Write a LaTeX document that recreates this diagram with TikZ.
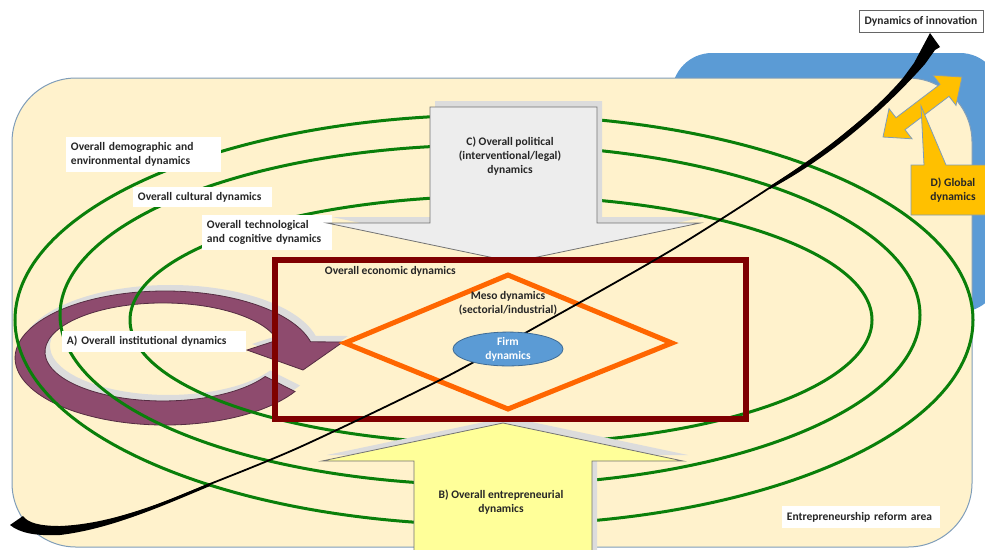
\documentclass[tikz,border=0pt]{standalone}
\usepackage{fontspec}
\setmainfont{Carlito}
\usepackage{xcolor}
\usetikzlibrary{positioning,shadows,shapes.geometric}

\definecolor{cream}{HTML}{FFF2CC}
\definecolor{skyblue}{HTML}{5B9BD5}
\definecolor{edgeblue}{HTML}{7F9DB9}
\definecolor{ringgreen}{HTML}{0A7F0A}
\definecolor{plum}{HTML}{8E4B6E}
\definecolor{shade}{HTML}{DCDCDC}
\definecolor{arrowgray}{HTML}{EDEDED}
\definecolor{paleyellow}{HTML}{FFFF99}
\definecolor{darkred}{HTML}{7F0000}
\definecolor{vivid}{HTML}{FF6600}
\definecolor{gold}{HTML}{FFC000}

\begin{document}
\begin{tikzpicture}[x=0.025cm, y=-0.025cm,
    every node/.style={font=\fontsize{8.2}{10}\selectfont\bfseries, text=black!85, align=center},
    tag/.style={fill=white, inner xsep=0.125cm, inner ysep=0pt, align=left},
    orbit/.style={draw=ringgreen, line width=0.075cm},
    block/.style={draw=black!55, line width=0.02cm},
    lift/.style={drop shadow={shadow xshift=0.125cm, shadow yshift=0.15cm, fill=shade, opacity=1}}]

    \useasboundingbox (0,0) rectangle (985,549);
    \clip (0,0) rectangle (985,549);

    \fill[skyblue, rounded corners=1cm] (672,53) rectangle (1000,312);
    \filldraw[fill=cream, draw=edgeblue, line width=0.025cm, rounded corners=1.6cm] (12,78) rectangle (972,547);

    \filldraw[fill=plum, draw=plum!60!black, line width=0.02cm, lift] (295,391.5)
        arc[start angle=30, end angle=346, x radius=150, y radius=67]
        -- (343,342) -- (303,370) -- (247,350) -- (277.5,340.1)
        arc[start angle=346, end angle=30, x radius=118, y radius=49] -- cycle;

    \draw[orbit] (494,320) ellipse [x radius=479, y radius=205];
    \draw[orbit] (490,315) ellipse [x radius=430, y radius=170];
    \draw[orbit] (501,320) ellipse [x radius=371, y radius=124];

    \node[tag, text width=3.625cm, minimum height=0.875cm] (demog) at (143.5,154.5) {Overall demographic and\\environmental dynamics};
    \node[tag, text width=3.225cm, minimum height=0.5cm] (cultural) at (202.5,197) {Overall cultural dynamics};
    \node[tag, text width=3.0cm, minimum height=0.875cm] (techno) at (267,232.5) {Overall technological\\and cognitive dynamics};
    \node[tag, text width=4.35cm, minimum height=0.525cm] (instit) at (154,341.5) {A) Overall institutional dynamics};
    \node[tag, text width=3.7cm, minimum height=0.55cm] (reform) at (861,517) {Entrepreneurship reform area};

    \filldraw[block, fill=arrowgray, lift] (430,107) -- (597,107) -- (597,223) -- (700,223) -- (513.5,262) -- (327,223) -- (430,223) -- cycle;
    \node (political) at (510,156) {C) Overall political\\(interventional/legal)\\dynamics};

    \filldraw[block, fill=paleyellow, lift] (414,560) -- (414,461) -- (322,461) -- (503,423) -- (683,461) -- (592,461) -- (592,560) -- cycle;
    \node (entre) at (501,502) {B) Overall entrepreneurial\\dynamics};

    \draw[darkred, line width=0.15cm] (274.5,260) rectangle (746,419);
    \node[anchor=west] (econ) at (320,271) {Overall economic dynamics};
    \draw[vivid, line width=0.125cm] (345,343) -- (508,275) -- (672,343) -- (508,409) -- cycle;

    \node (innov) at (921,21) [draw=black!60, fill=white, minimum width=3.1cm, minimum height=0.55cm, inner sep=0pt] {Dynamics of innovation};
    \coordinate (tail) at (10,525);
    \coordinate (tip) at (930,33);
    \draw[line width=0.045cm] plot[smooth] coordinates {(30,532) (67,531) (100,523) (150,508) (200,488) (300,447) (440,380) (527,332) (675,248) (807,163) (850,130) (883,102) (903,82)};
    \fill (tail) -- (23,516) .. controls (28,523) and (40,526) .. (60,526) .. controls (110,524) and (160,504) .. (210,483)
        -- (210,486) .. controls (160,507) and (110,529) .. (60,535) .. controls (35,536) and (20,533) .. cycle;
    \fill (770,186) .. controls (810,161) and (866,121) .. (903,78) -- (914,63) -- (tip) -- (940,47) -- (935,50)
        -- (925,64) .. controls (888,106) and (832,156) .. (770,189) -- cycle;

    \node[ellipse, fill=skyblue, draw=skyblue!70!black, line width=0.02cm, minimum width=2.75cm, minimum height=0.7cm, inner sep=0pt, text=white] (firm) at (508,349) {Firm\\dynamics};
    \node[above=0.4cm of firm, inner sep=0pt] (meso) {Meso dynamics\\(sectorial/industrial)};

    \filldraw[fill=gold, draw=edgeblue, line width=0.02cm] (883,137) -- (889,108.6) -- (896,117.7) -- (940,84.3) -- (933,75.2) -- (962,77)
        -- (956,105.4) -- (949,96.3) -- (905,129.7) -- (912,138.8) -- cycle;
    \filldraw[fill=gold, draw=edgeblue, line width=0.02cm] (911,165) -- (924,165) -- (921,106) -- (946,165) -- (990,165) -- (990,215) -- (911,215) -- cycle;
    \node (global) at (953,190) {D) Global\\dynamics};
\end{tikzpicture}
\end{document}
